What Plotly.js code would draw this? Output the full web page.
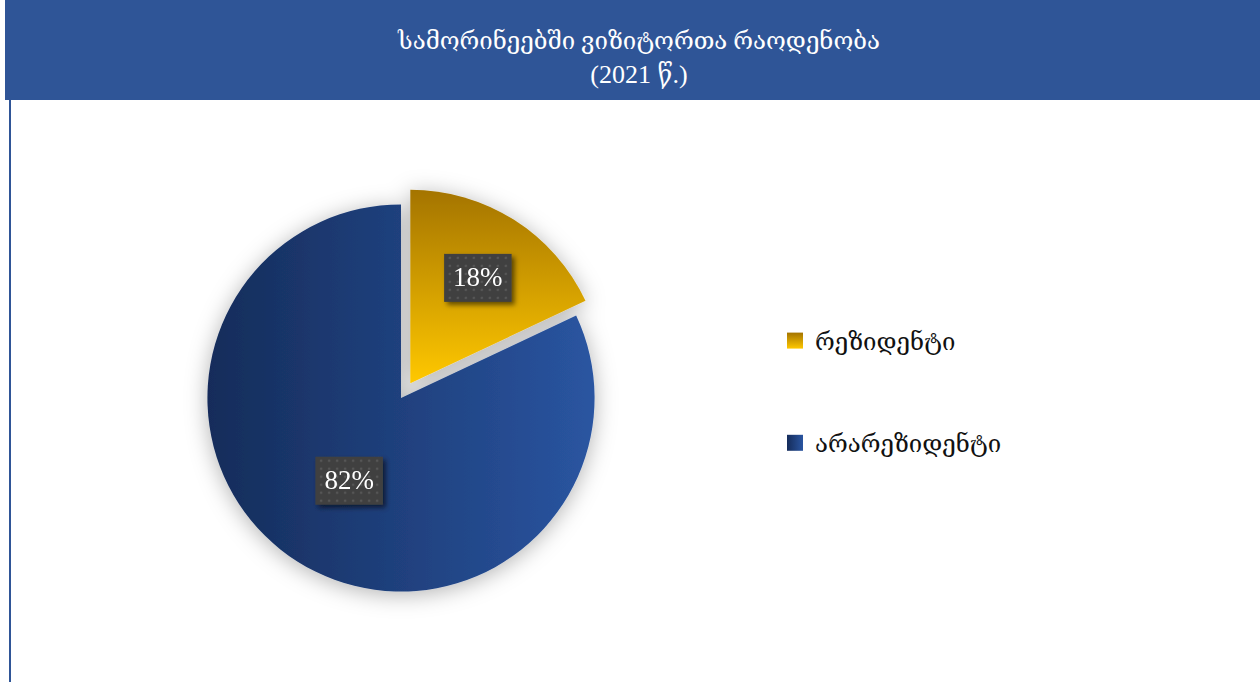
<!DOCTYPE html>
<html><head><meta charset="utf-8">
<script src="https://cdn.plot.ly/plotly-3.0.1.min.js"></script>
<style>html,body{margin:0;padding:0;background:#fff}#chart{width:1260px;height:682px}</style>
</head><body>
<svg width="0" height="0" style="position:absolute">
<defs>
<linearGradient id="gBlue" x1="0" y1="0" x2="1" y2="0"><stop offset="0" stop-color="#152c5a"/><stop offset="1" stop-color="#2a55a1"/></linearGradient>
<linearGradient id="gGold" x1="0" y1="0" x2="0" y2="1"><stop offset="0" stop-color="#a47400"/><stop offset="1" stop-color="#ffc800"/></linearGradient>
<filter id="pieShadow" x="-25%" y="-25%" width="150%" height="150%"><feDropShadow dx="0" dy="3" stdDeviation="11" flood-color="#000" flood-opacity="0.3"/></filter>
<filter id="boxShadow" x="-30%" y="-30%" width="160%" height="160%"><feDropShadow dx="3" dy="3" stdDeviation="2.5" flood-color="#000" flood-opacity="0.55"/></filter>
<pattern id="dots" width="8" height="8" patternUnits="userSpaceOnUse"><rect width="8" height="8" fill="#404040"/><circle cx="4" cy="4" r="1.3" fill="#565656"/></pattern>
</defs></svg>
<div id="chart"></div>
<script>
const categories = ['რეზიდენტი', 'არარეზიდენტი'];
const shares = [18, 82];
const titleLines = ['სამორინეებში ვიზიტორთა რაოდენობა', '(2021 წ.)'];

const W = 1260, H = 682;
const cx = 401, cy = 398, half = 211;
const trace = {
  type: 'pie',
  labels: categories,
  values: shares,
  sort: false,
  direction: 'clockwise',
  rotation: 0,
  pull: [0.09, 0],
  marker: {colors: ['#e0a800', '#22468a'], line: {width: 0}},
  texttemplate: '%{percent:.0%}',
  textposition: 'inside',
  insidetextorientation: 'horizontal',
  insidetextfont: {family: 'Liberation Serif, DejaVu Serif, serif', size: 27, color: '#ffffff'},
  hoverinfo: 'label+percent',
  domain: {x: [(cx - half) / W, (cx + half) / W], y: [1 - (cy + half) / H, 1 - (cy - half) / H]}
};
const layout = {
  width: W, height: H,
  margin: {l: 0, r: 0, t: 0, b: 0},
  paper_bgcolor: '#ffffff',
  showlegend: true,
  legend: {x: 775 / W, y: 1 - 392 / H, yanchor: 'middle', xanchor: 'left',
           font: {family: 'DejaVu Serif, DejaVu Sans, serif', size: 24, color: '#111111'},
           bgcolor: 'rgba(0,0,0,0)'},
  title: {text: '<span style="font-size:24px">' + titleLines[0] + '</span><br>' + titleLines[1],
          x: 639 / W, xanchor: 'center', y: 1 - 49 / H, yanchor: 'middle', yref: 'container',
          font: {family: 'Liberation Serif, DejaVu Serif, serif', size: 26, color: '#ffffff'}},
  shapes: [
    {type: 'rect', xref: 'paper', yref: 'paper', x0: 5 / W, x1: 1, y0: 1 - 100 / H, y1: 1,
     fillcolor: '#2f5597', line: {width: 0}, layer: 'below'},
    {type: 'line', xref: 'paper', yref: 'paper', x0: 10 / W, x1: 10 / W, y0: 0, y1: 1 - 100 / H,
     line: {color: '#2f5597', width: 2}}
  ]
};
Plotly.newPlot('chart', [trace], layout, {displayModeBar: false, staticPlot: true}).then(function (gd) {
  const NS = 'http://www.w3.org/2000/svg';
  const grads = ['url(#gGold)', 'url(#gBlue)'];
  gd.querySelectorAll('.pielayer .slice path.surface').forEach(function (p, i) { p.style.fill = grads[i]; });
  gd.querySelectorAll('.pielayer .trace').forEach(function (t) { t.setAttribute('filter', 'url(#pieShadow)'); });
  gd.querySelectorAll('.pielayer .slicetext').forEach(function (g) {
    const t = g.querySelector('text');
    if (!t) return;
    const bb = t.getBBox();
    const r = document.createElementNS(NS, 'rect');
    const px = 9, py = 10;
    r.setAttribute('x', bb.x - px); r.setAttribute('y', bb.y - py + 2);
    r.setAttribute('width', bb.width + 2 * px); r.setAttribute('height', bb.height + 2 * py - 2);
    r.setAttribute('fill', 'url(#dots)');
    r.setAttribute('filter', 'url(#boxShadow)');
    if (t.getAttribute('transform')) r.setAttribute('transform', t.getAttribute('transform'));
    g.insertBefore(r, t);
  });
  gd.querySelectorAll('.legend [clip-path]').forEach(function (e) { e.removeAttribute('clip-path'); });
  const items = gd.querySelectorAll('.legend .traces');
  items.forEach(function (it, i) {
    const pts = it.querySelector('.legendpoints path');
    if (pts) { pts.setAttribute('d', 'M8,8H-8V-8H8Z'); pts.style.fill = grads[i]; pts.style.stroke = 'none'; }
    const m = /translate\(([-\d.]+)[,\s]+([-\d.]+)\)/.exec(it.getAttribute('transform') || '');
    if (m) it.setAttribute('transform', 'translate(' + m[1] + ',' + (parseFloat(m[2]) + (i === 0 ? -34 : 34)) + ')');
  });
});
</script>
</body></html>
